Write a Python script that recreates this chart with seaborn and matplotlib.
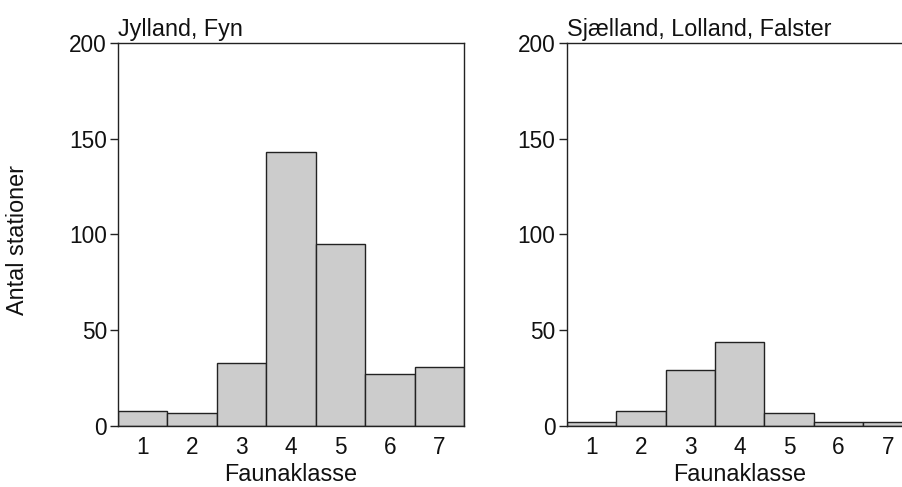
import matplotlib
matplotlib.use("Agg")
import matplotlib.pyplot as plt
import seaborn as sns
import pandas as pd

classes = ["1", "2", "3", "4", "5", "6", "7"]
jylland_fyn = [8, 7, 33, 143, 95, 27, 31]
sjaelland = [2, 8, 29, 44, 7, 2, 2]
titles = ["Jylland, Fyn", "Sjælland, Lolland, Falster"]
xlabel = "Faunaklasse"
ylabel = "Antal stationer"
yticks = [0, 50, 100, 150, 200]

sns.set_theme(style="ticks")
plt.rcParams["font.family"] = ["Liberation Sans", "DejaVu Sans"]

fig = plt.figure(figsize=(9.03, 4.87), dpi=100)
W, H = 903, 487
ax_w, ax_h = 346 / W, 383 / H
bottom = (H - 426) / H
lefts = [118 / W, 566.7 / W]

FS = 16.8
edge = "#222222"
for i, (vals, title) in enumerate(zip([jylland_fyn, sjaelland], titles)):
    ax = fig.add_axes([lefts[i], bottom, ax_w, ax_h])
    df = pd.DataFrame({"Faunaklasse": classes, "Antal": vals})
    sns.barplot(data=df, x="Faunaklasse", y="Antal", width=1.0, color="#cccccc",
                edgecolor=edge, linewidth=1.0, saturation=1, ax=ax)
    ax.set_xlim(-0.5, 6.5)
    ax.set_ylim(0, 200)
    ax.set_yticks(yticks)
    ax.tick_params(axis="y", direction="out", length=6, width=1, color=edge,
                   labelsize=16.3, pad=2, labelcolor="#111111")
    ax.tick_params(axis="x", length=0, labelsize=16.3, pad=7, labelcolor="#111111")
    for s in ax.spines.values():
        s.set_visible(True)
        s.set_color(edge)
        s.set_linewidth(1.0)
    ax.set_xlabel(xlabel, fontsize=FS, labelpad=3, color="#111111")
    ax.set_ylabel("")
    ax.set_title(title, loc="left", fontsize=FS, pad=5, color="#111111")

fig.text(18 / W, 1 - 240 / H, ylabel, rotation=90, ha="center", va="center",
         fontsize=FS, color="#111111")

fig.savefig("out.png", dpi=100)
